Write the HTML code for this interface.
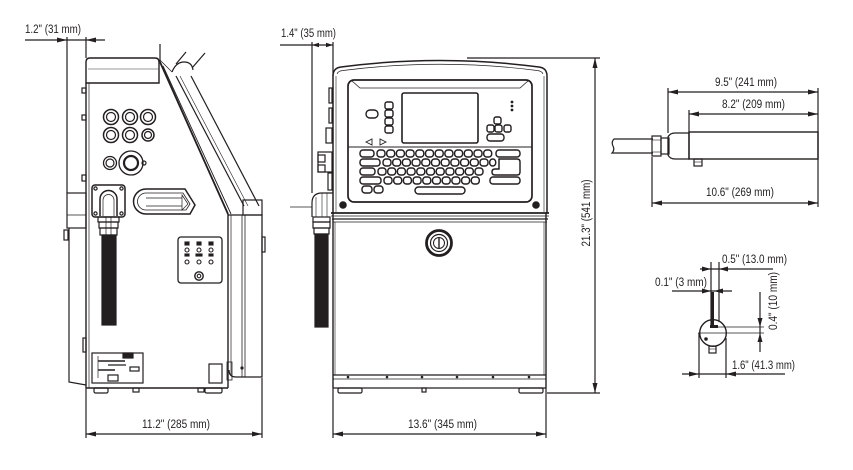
<!DOCTYPE html>
<html><head><meta charset="utf-8"><style>
html,body{margin:0;padding:0;background:#fff;}
svg{display:block;}
text{font-family:"Liberation Sans",sans-serif;font-size:11.5px;fill:#231f20;}
</style></head><body>
<svg width="853" height="470" viewBox="0 0 853 470" xmlns="http://www.w3.org/2000/svg">
<g fill="none" stroke="#231f20" stroke-width="1.2">

<!-- ============ LEFT SIDE VIEW ============ -->
<line x1="25" y1="40" x2="105" y2="40"/>
<line x1="67" y1="37" x2="67" y2="193"/>
<line x1="86" y1="37" x2="86" y2="58"/>
<path d="M86,83 V62 Q86,58 90,58 H155 Q159,58 159,62 V83 Z" stroke-width="1.4"/>
<line x1="88" y1="69" x2="158" y2="69" stroke-width="0.7" stroke="#777"/>
<line x1="86" y1="83" x2="86" y2="388" stroke-width="1.4"/>
<line x1="89" y1="83" x2="89" y2="388" stroke-width="0.7"/>
<line x1="86" y1="388" x2="228" y2="388" stroke-width="1.4"/>
<line x1="160" y1="44" x2="160" y2="62"/>
<path d="M160,62 L228,214" stroke-width="1.8"/>
<path d="M163,66 L231,214" stroke-width="0.9"/>
<path d="M176,76 L244,206"/>
<path d="M180,76 L248,206" stroke-width="0.6"/>
<path d="M191,76 L259,206"/>
<path d="M172,72 Q176,62 184,62 Q192,62 193,70"/>
<path d="M176,64 L186,52"/>
<path d="M192,68 L205,53"/>
<path d="M160,60 L172,72" stroke-width="0.7"/>
<rect x="243" y="200" width="19" height="15"/>
<line x1="228" y1="214" x2="228" y2="388" stroke-width="1.4"/>
<path d="M228,215 H262 V377 H236 Q229,377 229,370" stroke-width="1.3"/>
<line x1="231" y1="215" x2="231" y2="376" stroke-width="0.7"/>
<line x1="242" y1="215" x2="242" y2="377" stroke-width="0.8"/>
<line x1="245" y1="215" x2="245" y2="377" stroke-width="0.8"/>
<rect x="262" y="237" width="3" height="15"/>
<rect x="227" y="362" width="5" height="18" stroke-width="0.8"/>
<circle cx="242" cy="368" r="1" fill="#231f20"/>
<rect x="67" y="193" width="19" height="35"/>
<line x1="67" y1="215" x2="86" y2="215" stroke-width="0.7"/>
<path d="M69,228 V382 L86,385"/>
<rect x="64" y="230" width="4" height="10"/>
<rect x="83" y="338" width="3" height="14"/>
<rect x="82" y="88" width="4" height="5"/>
<rect x="82" y="115" width="4" height="5"/>
<rect x="82" y="175" width="4" height="6"/>
<circle cx="111" cy="117" r="7.5" stroke-width="1.5"/><circle cx="111" cy="117" r="4.5"/>
<circle cx="130" cy="117" r="7.5" stroke-width="1.5"/><circle cx="130" cy="117" r="4.5"/>
<circle cx="148" cy="117" r="7.5" stroke-width="1.5"/><circle cx="148" cy="117" r="4.5"/>
<circle cx="111" cy="135" r="7.5" stroke-width="1.5"/><circle cx="111" cy="135" r="4.5"/>
<circle cx="130" cy="135" r="7.5" stroke-width="1.5"/><circle cx="130" cy="135" r="4.5"/>
<circle cx="148" cy="135" r="6" stroke-width="1.5"/><circle cx="148" cy="135" r="3.5"/>
<circle cx="110" cy="163" r="6.5" stroke-width="1.3"/><circle cx="110" cy="163" r="4"/>
<circle cx="131" cy="163" r="12" stroke-width="1.3"/><circle cx="131" cy="163" r="7" stroke-width="2.2"/>
<circle cx="144" cy="163" r="2"/>
<rect x="92" y="185" width="33" height="32" rx="3" stroke-width="1.5"/>
<circle cx="95.5" cy="188.5" r="1.6"/><circle cx="121.5" cy="188.5" r="1.6"/>
<circle cx="95.5" cy="213.5" r="1.6"/><circle cx="121.5" cy="213.5" r="1.6"/>
<path d="M100,216 V199 A8.5,8.5 0 0 1 117,199 V216" stroke-width="1.5"/>
<path d="M103,216 V200 A5.5,5.5 0 0 1 114,200 V216" stroke-width="0.7"/>
<rect x="98" y="217" width="21" height="5"/>
<rect x="99" y="222" width="19" height="6"/>
<rect x="100" y="228" width="17" height="7"/>
<line x1="106" y1="217" x2="106" y2="235" stroke-width="0.7"/>
<line x1="111" y1="217" x2="111" y2="235" stroke-width="0.7"/>
<rect x="102" y="235" width="14" height="90" fill="#231f20"/>
<path d="M146,189 H185 L195,205 L190,214 H146 A12.5,12.5 0 0 1 146,189 Z" stroke-width="1.5"/>
<path d="M146,193 H183 L190,204 L186,210 H146 A8.5,8.5 0 0 1 146,193 Z" stroke-width="0.8"/>
<line x1="146" y1="198" x2="182" y2="198" stroke-width="0.7"/>
<line x1="146" y1="206" x2="182" y2="206" stroke-width="0.7"/>
<path d="M182,195 L188,204 L182,210 Z" stroke-width="0.7"/>
<rect x="178" y="237" width="44" height="46" rx="3" stroke-width="1.3"/>
<g stroke-width="1.1">
<rect x="185" y="242" width="4" height="3" fill="#231f20"/><circle cx="187" cy="250" r="2"/><rect x="185" y="254" width="4" height="2" fill="#231f20"/><circle cx="187" cy="262" r="2"/>
<rect x="197" y="242" width="4" height="3" fill="#231f20"/><circle cx="199" cy="250" r="2"/><rect x="196" y="254" width="6" height="2" fill="#231f20"/><circle cx="199" cy="262" r="2"/>
<rect x="209" y="242" width="4" height="3" fill="#231f20"/><circle cx="211" cy="250" r="2"/><rect x="209" y="254" width="4" height="2" fill="#231f20"/><circle cx="211" cy="262" r="2"/>
<circle cx="199" cy="276" r="4.2" stroke-width="1.4"/><circle cx="199" cy="276" r="1.8"/>
</g>
<rect x="92" y="353" width="51" height="30"/>
<rect x="123" y="353" width="10" height="5" fill="#231f20"/>
<line x1="98" y1="361" x2="125" y2="361" stroke-width="1.5"/>
<line x1="108" y1="365" x2="126" y2="365"/>
<line x1="98" y1="370" x2="115" y2="370" stroke-width="1.5"/>
<rect x="130" y="367" width="9" height="4"/>
<rect x="108" y="375" width="10" height="6"/>
<line x1="98" y1="356" x2="98" y2="378" stroke-width="0.7"/>
<rect x="209" y="364" width="13" height="19"/>
<rect x="94" y="388" width="14" height="5" rx="1.5"/>
<rect x="133" y="388" width="6" height="4"/>
<rect x="198" y="388" width="6" height="4"/>
<rect x="205" y="388" width="17" height="5" rx="1.5"/>
<line x1="86" y1="388" x2="86" y2="438"/>
<line x1="262" y1="378" x2="262" y2="438"/>
<line x1="86" y1="434" x2="262" y2="434"/>

<!-- ============ FRONT VIEW ============ -->
<line x1="280" y1="45" x2="333" y2="45"/>
<line x1="312" y1="42" x2="312" y2="193"/>
<line x1="333" y1="42" x2="333" y2="76"/>
<path d="M333,213 V76 Q333,68 341,67 Q440,54 539,67 Q547,68 547,76 V213" stroke-width="1.5"/>
<path d="M337,74 Q338,71 343,70.5 Q440,58 537,70.5 Q542,71 543,74" stroke-width="0.7"/>
<line x1="336" y1="76" x2="336" y2="212" stroke-width="0.6"/>
<line x1="544" y1="76" x2="544" y2="212" stroke-width="0.6"/>
<rect x="348" y="80" width="184" height="122" rx="6" stroke-width="1.7"/>
<path d="M352,81 L360,88 H520 L528,81" stroke-width="0.8"/>
<rect x="402" y="93" width="76" height="50" rx="2" stroke-width="1.6"/>
<line x1="348" y1="147" x2="532" y2="147" stroke-width="1"/>
<rect x="366" y="110" width="12" height="8" rx="4" stroke-width="1.4"/>
<g stroke-width="1.4">
<rect x="385" y="102" width="8" height="7" rx="2"/>
<rect x="385" y="110" width="8" height="7" rx="2"/>
<rect x="385" y="118" width="8" height="7" rx="2"/>
<rect x="385" y="126" width="8" height="7" rx="2"/>
<rect x="494" y="117" width="7" height="7" rx="2"/>
<rect x="487" y="125" width="7" height="7" rx="2"/>
<rect x="495" y="125" width="7" height="7" rx="2"/>
<rect x="504" y="125" width="7" height="7" rx="2"/>
<rect x="487" y="134" width="17" height="7" rx="3"/>
</g>
<polygon points="366,142 372,139 372,145" stroke-width="0.9"/>
<polygon points="386,142 380,139 380,145" stroke-width="0.9"/>
<circle cx="512" cy="102" r="1.4" fill="#231f20" stroke="none"/>
<circle cx="512" cy="106" r="1.4" fill="#231f20" stroke="none"/>
<circle cx="512" cy="110" r="1.4" fill="#231f20" stroke="none"/>
<g stroke-width="1.45">
<rect x="360" y="150" width="14" height="7" rx="3"/>
<rect x="377" y="150" width="8" height="7" rx="3"/><rect x="386.7" y="150" width="8" height="7" rx="3"/><rect x="396.4" y="150" width="8" height="7" rx="3"/><rect x="406.1" y="150" width="8" height="7" rx="3"/><rect x="415.8" y="150" width="8" height="7" rx="3"/><rect x="425.5" y="150" width="8" height="7" rx="3"/><rect x="435.2" y="150" width="8" height="7" rx="3"/><rect x="444.9" y="150" width="8" height="7" rx="3"/><rect x="454.6" y="150" width="8" height="7" rx="3"/><rect x="464.3" y="150" width="8" height="7" rx="3"/><rect x="474" y="150" width="8" height="7" rx="3"/><rect x="483.7" y="150" width="8" height="7" rx="3"/>
<rect x="496" y="150" width="24" height="7" rx="3"/>
<rect x="360" y="159" width="20" height="7" rx="3"/>
<rect x="383" y="159" width="8" height="7" rx="3"/><rect x="392.7" y="159" width="8" height="7" rx="3"/><rect x="402.4" y="159" width="8" height="7" rx="3"/><rect x="412.1" y="159" width="8" height="7" rx="3"/><rect x="421.8" y="159" width="8" height="7" rx="3"/><rect x="431.5" y="159" width="8" height="7" rx="3"/><rect x="441.2" y="159" width="8" height="7" rx="3"/><rect x="450.9" y="159" width="8" height="7" rx="3"/><rect x="460.6" y="159" width="8" height="7" rx="3"/><rect x="470.3" y="159" width="8" height="7" rx="3"/><rect x="480" y="159" width="8" height="7" rx="3"/><rect x="489.7" y="159" width="6" height="7" rx="3"/>
<path d="M499,159 H517 Q520,159 520,162 V172 Q520,175 517,175 H495 Q492,175 492,172 Q492,169 495,169 H499 Z"/>
<rect x="360" y="168" width="15" height="7" rx="3"/>
<rect x="378" y="168" width="8" height="7" rx="3"/><rect x="387.7" y="168" width="8" height="7" rx="3"/><rect x="397.4" y="168" width="8" height="7" rx="3"/><rect x="407.1" y="168" width="8" height="7" rx="3"/><rect x="416.8" y="168" width="8" height="7" rx="3"/><rect x="426.5" y="168" width="8" height="7" rx="3"/><rect x="436.2" y="168" width="8" height="7" rx="3"/><rect x="445.9" y="168" width="8" height="7" rx="3"/><rect x="455.6" y="168" width="8" height="7" rx="3"/><rect x="465.3" y="168" width="8" height="7" rx="3"/><rect x="475" y="168" width="8" height="7" rx="3"/>
<rect x="360" y="177" width="21" height="7" rx="3"/>
<rect x="384" y="177" width="8" height="7" rx="3"/><rect x="393.7" y="177" width="8" height="7" rx="3"/><rect x="403.4" y="177" width="8" height="7" rx="3"/><rect x="413.1" y="177" width="8" height="7" rx="3"/><rect x="422.8" y="177" width="8" height="7" rx="3"/><rect x="432.5" y="177" width="8" height="7" rx="3"/><rect x="442.2" y="177" width="8" height="7" rx="3"/><rect x="451.9" y="177" width="8" height="7" rx="3"/><rect x="461.6" y="177" width="8" height="7" rx="3"/><rect x="471.3" y="177" width="8" height="7" rx="3"/>
<rect x="490" y="177" width="30" height="7" rx="3"/>
<rect x="362" y="186" width="10" height="7" rx="3"/>
<rect x="374" y="186" width="9" height="7" rx="3"/>
<rect x="415" y="187" width="50" height="7" rx="3.5"/>
</g>
<circle cx="343" cy="205" r="3.2" fill="#231f20"/>
<circle cx="536" cy="205" r="3.2" fill="#231f20"/>
<line x1="331" y1="213" x2="549" y2="213" stroke-width="1.8"/>
<line x1="331" y1="216" x2="549" y2="216" stroke-width="0.8"/>
<line x1="332" y1="219" x2="548" y2="219" stroke-width="1.3"/>
<line x1="333" y1="222" x2="547" y2="222" stroke-width="0.7"/>
<line x1="333" y1="213" x2="333" y2="388" stroke-width="1.4"/>
<line x1="546" y1="213" x2="546" y2="388" stroke-width="1.4"/>
<line x1="335" y1="222" x2="335" y2="375" stroke-width="0.6"/>
<line x1="544" y1="222" x2="544" y2="375" stroke-width="0.6"/>
<line x1="333" y1="375" x2="546" y2="375" stroke-width="1.3"/>
<line x1="333" y1="379" x2="546" y2="379" stroke-width="0.7"/>
<line x1="333" y1="388" x2="546" y2="388" stroke-width="1.3"/>
<g fill="#231f20" stroke="none">
<circle cx="348" cy="377" r="1.3"/><circle cx="387" cy="377" r="1.3"/><circle cx="422" cy="377" r="1.3"/><circle cx="457" cy="377" r="1.3"/><circle cx="493" cy="377" r="1.3"/><circle cx="529" cy="377" r="1.3"/>
</g>
<rect x="338" y="388" width="24" height="5" rx="1.5"/>
<rect x="519" y="388" width="24" height="5" rx="1.5"/>
<rect x="422" y="388" width="4" height="4"/>
<circle cx="439" cy="243" r="12.5" stroke-width="2.8"/>
<circle cx="439" cy="243" r="8.5" stroke-width="1.2"/>
<circle cx="439" cy="243" r="5.5" stroke-width="1"/>
<line x1="439" y1="238" x2="439" y2="248" stroke-width="1.4"/>
<rect x="329" y="88" width="3" height="15"/>
<rect x="329" y="108" width="3" height="15"/>
<rect x="326" y="128" width="6" height="15"/>
<rect x="318" y="152" width="14" height="20"/>
<rect x="318" y="155" width="7" height="7"/>
<rect x="318" y="165" width="7" height="7"/>
<rect x="328" y="173" width="4" height="17"/>
<path d="M312,217 V203 Q312,193 322,193 H333"/>
<line x1="316" y1="197" x2="316" y2="217" stroke-width="0.6"/>
<line x1="322" y1="193" x2="322" y2="217" stroke-width="0.6"/>
<line x1="327" y1="193" x2="327" y2="217" stroke-width="0.6"/>
<line x1="290" y1="207" x2="312" y2="207" stroke-width="0.8"/>
<rect x="313" y="217" width="17" height="5"/>
<rect x="313" y="222" width="17" height="6"/>
<rect x="314" y="228" width="15" height="6"/>
<rect x="315" y="234" width="13" height="93" fill="#231f20"/>
<line x1="333" y1="388" x2="333" y2="438"/>
<line x1="546" y1="388" x2="546" y2="438"/>
<line x1="333" y1="434" x2="546" y2="434"/>
<line x1="467" y1="58" x2="600" y2="58"/>
<line x1="547" y1="393" x2="600" y2="393"/>
<line x1="595" y1="58" x2="595" y2="393"/>

<!-- ============ NOZZLE TOP ============ -->
<path d="M653,139 H614 Q611,142 613,146 Q615,150 612,153 H653"/>
<rect x="652" y="136" width="9" height="20"/>
<line x1="652" y1="140" x2="661" y2="140" stroke-width="0.6"/>
<line x1="652" y1="152" x2="661" y2="152" stroke-width="0.6"/>
<rect x="661" y="138" width="8" height="16"/>
<path d="M668,137 Q670,133 675,133 H689 V159 H675 Q670,159 668,155 Z" stroke-width="1.3"/>
<rect x="689" y="132" width="129" height="27" stroke-width="1.4"/>
<rect x="694" y="159" width="8" height="7"/>
<line x1="694" y1="162" x2="702" y2="162" stroke-width="0.6"/>
<line x1="668" y1="88" x2="668" y2="133"/>
<line x1="689" y1="110" x2="689" y2="132"/>
<line x1="818" y1="88" x2="818" y2="207"/>
<line x1="652" y1="157" x2="652" y2="207"/>
<line x1="668" y1="92" x2="818" y2="92"/>
<line x1="689" y1="114" x2="818" y2="114"/>
<line x1="652" y1="203" x2="818" y2="203"/>

<!-- ============ NOZZLE END ============ -->
<line x1="700" y1="269" x2="773" y2="269"/>
<line x1="672" y1="291" x2="732" y2="291"/>
<line x1="711" y1="262" x2="711" y2="327"/>
<line x1="719" y1="262" x2="719" y2="322"/>
<rect x="711" y="292" width="3" height="34" fill="#231f20" stroke="none"/>
<circle cx="713" cy="333" r="13.3" stroke-width="1.4"/>
<rect x="710" y="325" width="8" height="3" fill="#231f20" stroke="none"/>
<circle cx="706" cy="339" r="1.8" fill="#231f20" stroke="none"/>
<rect x="709" y="346" width="7" height="7"/>
<line x1="709" y1="349" x2="716" y2="349" stroke-width="0.6"/>
<line x1="717" y1="327" x2="764" y2="327" stroke-width="0.8"/>
<line x1="698" y1="333" x2="764" y2="333" stroke-width="0.8"/>
<line x1="760" y1="292" x2="760" y2="352"/>
<line x1="699" y1="333" x2="699" y2="378"/>
<line x1="726" y1="338" x2="726" y2="378"/>
<line x1="682" y1="374" x2="785" y2="374"/>
</g>

<g fill="#231f20" stroke="none">
<polygon points="67,40 57,37.5 57,42.5"/>
<polygon points="86,40 96,37.5 96,42.5"/>
<polygon points="312,45 319,42.8 319,47.2"/>
<polygon points="333,45 326,42.8 326,47.2"/>
<polygon points="86,434 96,431.5 96,436.5"/>
<polygon points="262,434 252,431.5 252,436.5"/>
<polygon points="333,434 343,431.5 343,436.5"/>
<polygon points="546,434 536,431.5 536,436.5"/>
<polygon points="595,58 592.5,68 597.5,68"/>
<polygon points="595,393 592.5,383 597.5,383"/>
<polygon points="668,92 678,89.5 678,94.5"/>
<polygon points="818,92 808,89.5 808,94.5"/>
<polygon points="689,114 699,111.5 699,116.5"/>
<polygon points="818,114 808,111.5 808,116.5"/>
<polygon points="652,203 662,200.5 662,205.5"/>
<polygon points="818,203 808,200.5 808,205.5"/>
<polygon points="711,269 702,266.5 702,271.5"/>
<polygon points="719,269 728,266.5 728,271.5"/>
<polygon points="711,291 702,288.5 702,293.5"/>
<polygon points="714,291 723,288.5 723,293.5"/>
<polygon points="760,327 757.5,318 762.5,318"/>
<polygon points="760,333 757.5,342 762.5,342"/>
<polygon points="699,374 689,371.5 689,376.5"/>
<polygon points="726,374 736,371.5 736,376.5"/>
</g>

<text x="25" y="33" textLength="56" lengthAdjust="spacingAndGlyphs">1.2" (31 mm)</text>
<text x="281" y="37" textLength="55" lengthAdjust="spacingAndGlyphs">1.4" (35 mm)</text>
<text x="142" y="428" textLength="68" lengthAdjust="spacingAndGlyphs">11.2" (285 mm)</text>
<text x="408" y="428" textLength="69" lengthAdjust="spacingAndGlyphs">13.6" (345 mm)</text>
<text transform="translate(590,213) rotate(-90)" text-anchor="middle" textLength="67" lengthAdjust="spacingAndGlyphs">21.3" (541 mm)</text>
<text x="715" y="86" textLength="62" lengthAdjust="spacingAndGlyphs">9.5" (241 mm)</text>
<text x="722" y="108" textLength="63" lengthAdjust="spacingAndGlyphs">8.2" (209 mm)</text>
<text x="706" y="196" textLength="68" lengthAdjust="spacingAndGlyphs">10.6" (269 mm)</text>
<text x="722" y="263" textLength="65" lengthAdjust="spacingAndGlyphs">0.5" (13.0 mm)</text>
<text x="655" y="286" textLength="52" lengthAdjust="spacingAndGlyphs">0.1" (3 mm)</text>
<text transform="translate(777,301) rotate(-90)" text-anchor="middle" textLength="58" lengthAdjust="spacingAndGlyphs">0.4" (10 mm)</text>
<text x="732" y="369" textLength="63" lengthAdjust="spacingAndGlyphs">1.6" (41.3 mm)</text>
</svg>
</body></html>
